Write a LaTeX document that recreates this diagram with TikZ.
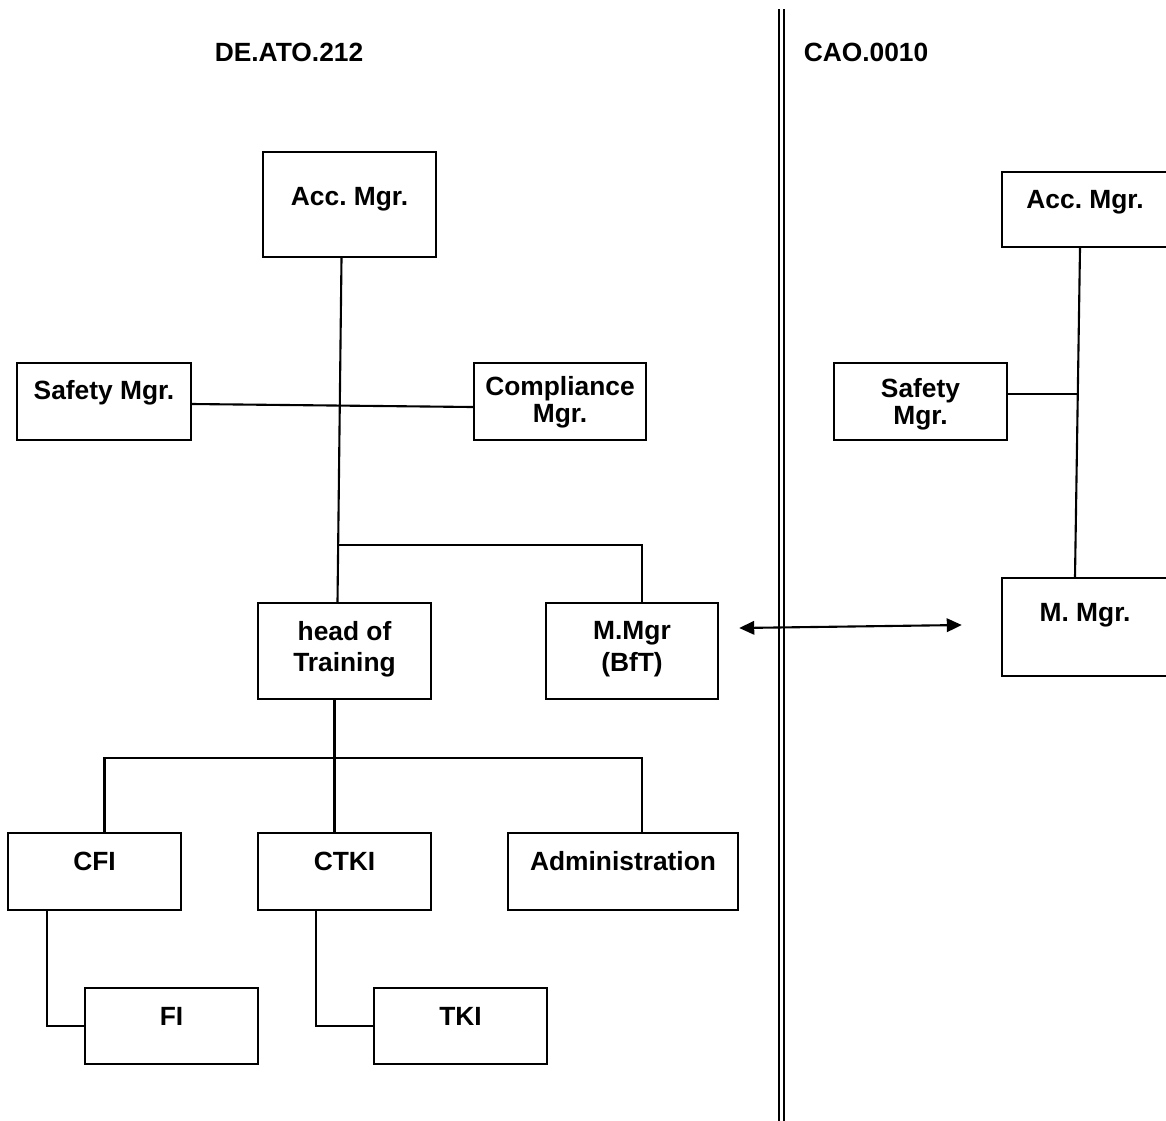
\documentclass[tikz,border=0pt]{standalone}
\usepackage{fontspec}
\setmainfont{Liberation Sans}
\usetikzlibrary{arrows.meta,calc}
\frenchspacing

\begin{document}
\begin{tikzpicture}[x=0.02cm,y=-0.02cm,font=\fontsize{15}{18}\selectfont\bfseries,box/.style={draw,line width=1.4pt,inner sep=0pt,align=center,text depth=#1},link/.style={line width=1.2pt},divider/.style={double,double distance=0.045cm,line width=1.4pt}]
  \clip (0,0) rectangle (1166,1120);
  \node (titleato) at (289,52) {DE.ATO.212};
  \node (titlecao) at (866,52) {CAO.0010};
  \draw[divider] (781.5,9) -- (781.5,1130);
  \node[box=0.34cm,minimum width=3.46cm,minimum height=2.10cm] (acc) at (349.5,204.5) {Acc. Mgr.};
  \node[box=0.46cm,minimum width=3.48cm,minimum height=1.54cm] (safety) at (104,401.5) {Safety Mgr.};
  \node[box=0.08cm,minimum width=3.44cm,minimum height=1.54cm] (compl) at (560,401.5) {Compliance\\[-3pt]Mgr.};
  \node[box=0.19cm,minimum width=3.46cm,minimum height=1.92cm] (hot) at (344.5,651) {head of\\Training};
  \node[box=0.19cm,minimum width=3.44cm,minimum height=1.92cm] (mmgr) at (632,651) {M.Mgr\\(BfT)};
  \node[box=0.42cm,minimum width=3.46cm,minimum height=1.54cm] (cfi) at (94.5,871.5) {CFI};
  \node[box=0.42cm,minimum width=3.46cm,minimum height=1.54cm] (ctki) at (344.5,871.5) {CTKI};
  \node[box=0.42cm,minimum width=4.60cm,minimum height=1.54cm] (admin) at (623,871.5) {Administration};
  \node[box=0.40cm,minimum width=3.46cm,minimum height=1.52cm] (fi) at (171.5,1026) {FI};
  \node[box=0.40cm,minimum width=3.46cm,minimum height=1.52cm] (tki) at (460.5,1026) {TKI};
  \node[box=0.42cm,minimum width=3.32cm,minimum height=1.50cm] (racc) at (1085,209.5) {Acc. Mgr.};
  \node[box=0cm,minimum width=3.46cm,minimum height=1.54cm] (rsafety) at (920.5,401.5) {Safety\\[-2.5pt]Mgr.};
  \node[box=0.60cm,minimum width=3.32cm,minimum height=1.96cm] (rmmgr) at (1085,627) {M. Mgr.};
  \draw[link] ($(acc.south)+(-8,0)$) -- ($(hot.north)+(-7,0)$);
  \draw[link] ($(safety.east)+(0,2.5)$) -- ($(compl.west)+(0,5.5)$);
  \draw[link] ($(hot.north)+(-7,-57)$) -| ($(mmgr.north)+(10,0)$);
  \draw[link] ($(hot.south)+(-10,0)$) -- ++(0,58) coordinate (lowfork);
  \draw[link] (lowfork) -| ($(cfi.north)+(10,0)$);
  \draw[link] (lowfork) -| ($(admin.north)+(19,0)$);
  \draw[link] (lowfork) -- ($(ctki.north)+(-10,0)$);
  \draw[link] ($(cfi.south)+(-47.5,0)$) |- (fi.west);
  \draw[link] ($(ctki.south)+(-28.5,0)$) |- (tki.west);
  \draw[link] ($(racc.south)+(-5,0)$) -- coordinate[pos=0.444] (rjoin) ($(rmmgr.north)+(-10,0)$);
  \draw[link] (rjoin) -- (rjoin -| rsafety.east);
  \draw[link,{Triangle[length=0.3cm,width=0.27cm]}-{Triangle[length=0.3cm,width=0.27cm]}] ($(mmgr.east)+(20,-23)$) -- ($(rmmgr.west)+(-39,-2)$);
\end{tikzpicture}
\end{document}
